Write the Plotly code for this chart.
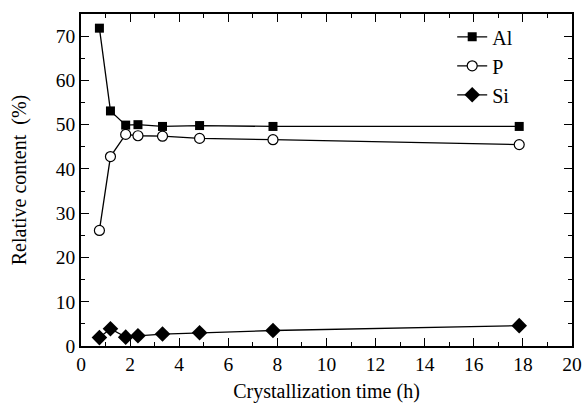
import plotly.graph_objects as go

time_h = [0.75, 1.2, 1.82, 2.32, 3.32, 4.83, 7.82, 17.85]
al = [71.8, 53.1, 49.9, 50.0, 49.6, 49.8, 49.6, 49.6]
p = [26.1, 42.8, 47.8, 47.5, 47.4, 46.9, 46.6, 45.5]
si = [1.9, 3.9, 2.0, 2.3, 2.7, 3.0, 3.5, 4.6]

FONT = "Liberation Serif, Times New Roman, serif"

fig = go.Figure()
fig.add_trace(go.Scatter(x=time_h, y=al, name="Al", mode="lines+markers",
                         line=dict(color="black", width=1.3),
                         marker=dict(symbol="square", size=9, color="black")))
fig.add_trace(go.Scatter(x=time_h, y=p, name="P", mode="lines+markers",
                         line=dict(color="black", width=1.3),
                         marker=dict(symbol="circle", size=10, color="white",
                                     line=dict(color="black", width=1.2))))
fig.add_trace(go.Scatter(x=time_h, y=si, name="Si", mode="lines+markers",
                         line=dict(color="black", width=1.3),
                         marker=dict(symbol="diamond", size=12, color="black")))

axis_common = dict(showline=True, linecolor="black", linewidth=1.5, mirror="allticks",
                   ticks="inside", ticklen=8, tickwidth=1, tickcolor="black",
                   showgrid=False, zeroline=False, automargin=False,
                   tickfont=dict(family=FONT, size=19.5, color="black"))

fig.update_xaxes(range=[0, 20], dtick=2, tick0=0,
                 minor=dict(ticks="inside", ticklen=4, dtick=1, tickcolor="black"),
                 title=dict(text="Crystallization time (h)", font=dict(family=FONT, size=20, color="black"),
                            standoff=10),
                 **axis_common)
fig.update_yaxes(range=[0, 75], dtick=10, tick0=0,
                 minor=dict(ticks="inside", ticklen=4, dtick=5, tickcolor="black"),
                 title=dict(text="Relative content  (%)", font=dict(family=FONT, size=20, color="black"),
                            standoff=24),
                 **axis_common)

fig.update_layout(
    width=584, height=404,
    margin=dict(l=81, r=12, t=14, b=58),
    paper_bgcolor="white", plot_bgcolor="white",
    font=dict(family=FONT, size=20, color="black"),
    legend=dict(x=0.756, y=0.99, xanchor="left", yanchor="top",
                bgcolor="rgba(0,0,0,0)", font=dict(family=FONT, size=20),
                tracegroupgap=0),
    showlegend=True,
)

fig.write_html("out.html")
